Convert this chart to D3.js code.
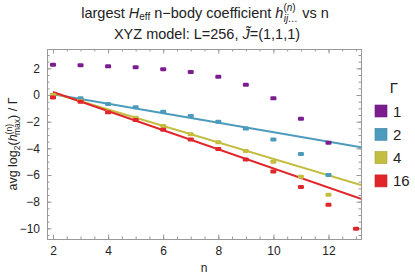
<!DOCTYPE html>
<html>
<head>
<meta charset="utf-8">
<script src="https://cdn.jsdelivr.net/npm/d3@7"></script>
<style>
  body { margin: 0; background: #fff; }
  text { font-family: "Liberation Sans", Arial, sans-serif; }
</style>
</head>
<body>
<svg id="chart" width="415" height="276"></svg>
<script>
// data
const ns = [2, 3, 4, 5, 6, 7, 8, 9, 10, 11, 12, 13];
const gammas = ["1", "2", "4", "16"];
const colors = ["#7b1d8e", "#4c9bbc", "#c3bd40", "#e1262b"];
const g1  = [2.27, 2.23, 2.15, 2.08, 1.93, 1.73, 1.37, 0.77, -0.25, -1.78, -3.58, null];
const g2  = [0.0, -0.25, -0.68, -0.92, -1.25, -1.58, -2.0, -2.52, -3.33, -4.43, -6.0, null];
const g4  = [0.0, -0.45, -1.25, -1.7, -2.33, -2.95, -3.54, -4.2, -5.0, -6.13, -7.48, null];
const g16 = [-0.18, -0.5, -1.3, -1.88, -2.6, -3.33, -4.05, -4.83, -5.73, -6.9, -8.23, -10.03];
// linear fits (value at n=2, slope) for Γ = 2, 4, 16
const fitGamma = ["2", "4", "16"];
const fitStart = [0.05, 0.15, 0.22];
const fitSlope = [-0.355, -0.617, -0.716];
const xTicks = [2, 4, 6, 8, 10, 12];
const yTicks = [2, 0, -2, -4, -6, -8, -10];

const svg = d3.select("#chart");
const L = 47, R = 361, T = 49, B = 239;
const x = d3.scaleLinear().domain([1.782, 13.18]).range([L, R]);
const y = d3.scaleLinear().domain([3.45, -10.8]).range([T, B]);

const series = [g1, g2, g4, g16];

// frame + ticks
const frameCol = "#999";
function minor(a, b) { return d3.range(a, b + 0.001, 0.5); }
const axes = [
  { ax: d3.axisBottom(x), tr: `translate(0,${B})`, maj: xTicks, mn: minor(2, 13), lab: true },
  { ax: d3.axisTop(x), tr: `translate(0,${T})`, maj: xTicks, mn: minor(2, 13), lab: false },
  { ax: d3.axisLeft(y), tr: `translate(${L},0)`, maj: yTicks, mn: minor(-10.5, 3), lab: true },
  { ax: d3.axisRight(y), tr: `translate(${R},0)`, maj: yTicks, mn: minor(-10.5, 3), lab: false }
];
axes.forEach(a => {
  // minor ticks
  svg.append("g").attr("transform", a.tr)
    .call(a.ax.tickValues(a.mn).tickSize(-2.5).tickFormat(""))
    .call(g => g.select(".domain").remove())
    .selectAll("line").attr("stroke", frameCol);
  const g = svg.append("g").attr("transform", a.tr)
    .call(a.ax.tickValues(a.maj).tickSize(-4.5).tickPadding(7)
      .tickFormat(a.lab ? (d => d < 0 ? "\u2212" + Math.abs(d) : d) : ""));
  g.select(".domain").attr("stroke", frameCol);
  g.selectAll("line").attr("stroke", frameCol);
  g.selectAll("text").attr("font-size", 12).attr("fill", "#222")
    .attr("font-family", "Liberation Sans, Arial, sans-serif");
});

// clip
svg.append("clipPath").attr("id", "clip").append("rect")
  .attr("x", L).attr("y", T).attr("width", R - L).attr("height", B - T);
const plot = svg.append("g").attr("clip-path", "url(#clip)");

// fit lines
const xEnd = x.domain()[1];
fitGamma.forEach((gm, i) => {
  const c = colors[gammas.indexOf(gm)];
  plot.append("line")
    .attr("x1", x(2)).attr("y1", y(fitStart[i]))
    .attr("x2", x(xEnd)).attr("y2", y(fitStart[i] + fitSlope[i] * (xEnd - 2)))
    .attr("stroke", c).attr("stroke-width", 2);
});

// markers
[1, 2, 3, 0].forEach(si => {
  const pts = ns.map((n, i) => [n, series[si][i]]).filter(p => p[1] !== null);
  plot.selectAll(null).data(pts).enter().append("rect")
    .attr("x", d => x(d[0]) - 3).attr("y", d => y(d[1]) - 2)
    .attr("width", 6).attr("height", 4).attr("rx", 1.2)
    .attr("fill", colors[si]);
});

// titles
const title = svg.append("text").attr("x", 205).attr("y", 18)
  .attr("text-anchor", "middle").attr("font-size", 14.5).attr("fill", "#222");
title.append("tspan").text("largest ");
title.append("tspan").attr("font-style", "italic").text("H");
title.append("tspan").attr("font-size", 10).attr("dy", 2).text("eff");
title.append("tspan").attr("dy", -2).text(" n\u2212body coefficient ");
title.append("tspan").attr("font-style", "italic").text("h");
title.append("tspan").attr("font-size", 10).attr("dy", -7).text("(");
title.append("tspan").attr("font-size", 10).attr("font-style", "italic").text("n");
title.append("tspan").attr("font-size", 10).text(")");
title.append("tspan").attr("font-size", 10).attr("font-style", "italic").attr("dx", -12).attr("dy", 11).text("ij\u2026");
title.append("tspan").attr("dy", -4).text(" vs n");

const sub = svg.append("text").attr("x", 207).attr("y", 38.5)
  .attr("text-anchor", "middle").attr("font-size", 14.5).attr("fill", "#222");
sub.append("tspan").text("XYZ model: L=256, ");
sub.append("tspan").attr("font-style", "italic").text("J\u0303");
sub.append("tspan").text("=(1,1,1)");

// axis labels
svg.append("text").attr("x", 204).attr("y", 272)
  .attr("text-anchor", "middle").attr("font-size", 12).attr("fill", "#222").text("n");

const yl = svg.append("text")
  .attr("transform", "translate(17,144) rotate(-90)")
  .attr("text-anchor", "middle").attr("font-size", 12.5).attr("fill", "#222");
yl.append("tspan").text("avg log");
yl.append("tspan").attr("font-size", 8.5).attr("dy", 3).text("2");
yl.append("tspan").attr("dy", -3).text("(");
yl.append("tspan").attr("font-style", "italic").text("h");
yl.append("tspan").attr("font-size", 8.5).attr("dy", -5).text("(n)");
yl.append("tspan").attr("font-size", 8.5).attr("dx", -11).attr("dy", 8).text("max");
yl.append("tspan").attr("dy", -3).text(") / \u0393");

// legend
const leg = svg.append("g");
leg.append("text").attr("x", 394).attr("y", 93).attr("text-anchor", "middle")
  .attr("font-size", 15).attr("fill", "#222").text("\u0393");
gammas.forEach((gm, i) => {
  const cy = 111 + i * 23.3;
  leg.append("rect").attr("x", 375).attr("y", cy - 6).attr("width", 12).attr("height", 12)
    .attr("fill", colors[i]).attr("stroke", d3.color(colors[i]).darker(0.4)).attr("stroke-width", 0.6);
  leg.append("text").attr("x", 393).attr("y", cy + 5.5).attr("font-size", 15)
    .attr("fill", "#222").text(gm);
});
</script>
</body>
</html>
